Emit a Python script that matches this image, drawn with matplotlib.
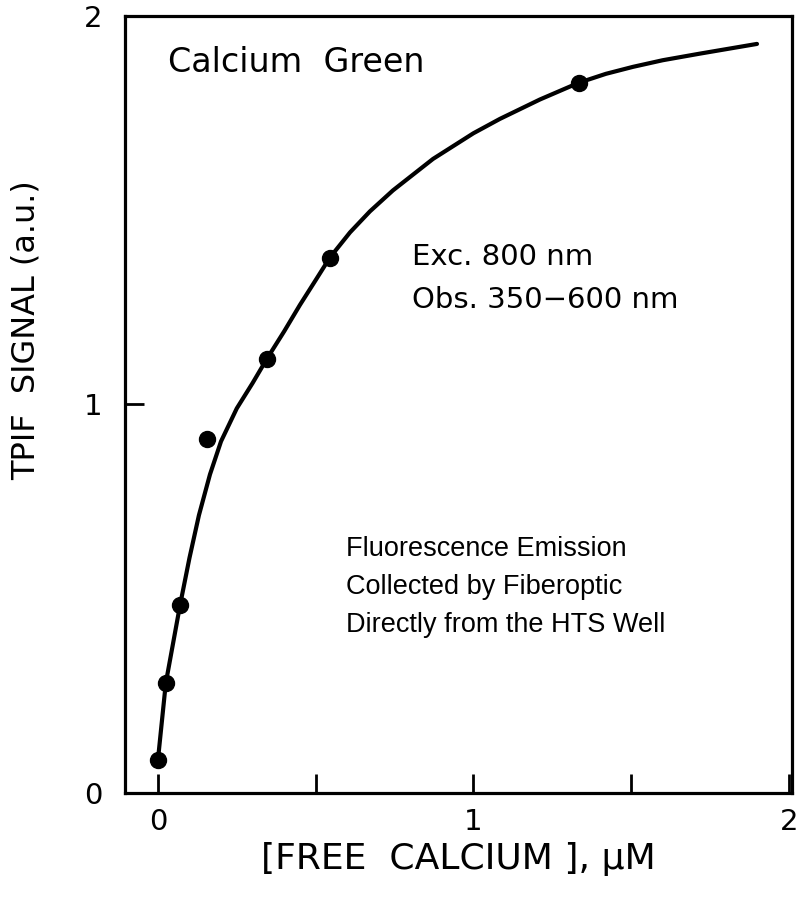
import matplotlib
matplotlib.use("Agg")
import matplotlib.pyplot as plt

# measured points (free calcium in uM, TPIF signal in a.u.)
conc = [0.0, 0.025, 0.07, 0.154, 0.345, 0.545, 1.335]
signal = [0.085, 0.283, 0.483, 0.91, 1.118, 1.378, 1.828]

# fitted curve
curve_x = [0.0, 0.025, 0.07, 0.10, 0.13, 0.165, 0.20, 0.25, 0.30, 0.345,
           0.40, 0.45, 0.50, 0.545, 0.609, 0.672, 0.745, 0.872, 1.00, 1.084,
           1.211, 1.334, 1.42, 1.506, 1.60, 1.718, 1.899]
curve_y = [0.085, 0.283, 0.483, 0.605, 0.715, 0.82, 0.905, 0.99, 1.055, 1.117,
           1.188, 1.256, 1.32, 1.378, 1.443, 1.497, 1.551, 1.632, 1.698, 1.735,
           1.785, 1.828, 1.851, 1.869, 1.886, 1.903, 1.928]

xticks = [0, 0.5, 1, 1.5, 2]
xticklabels = ["0", "", "1", "", "2"]
yticks = [0, 1, 2]
yticklabels = ["0", "1", "2"]

plt.rcParams['font.family'] = ['DejaVu Sans']

fig = plt.figure(figsize=(8, 9.11), dpi=100)
ax = fig.add_axes((0.156, 0.1295, 0.834, 0.853))

ax.plot(curve_x, curve_y, color="black", lw=3, solid_capstyle="round",
        solid_joinstyle="round", zorder=2)
ax.plot(conc, signal, "o", color="black", ms=11.5, zorder=3)

ax.set_xlim(-0.105, 2.01)
ax.set_ylim(0, 2)

ax.set_xticks(xticks)
ax.set_xticklabels(xticklabels)
ax.set_yticks(yticks)
ax.set_yticklabels(yticklabels)
ax.tick_params(direction="in", length=14, width=2, labelsize=21, pad=11, colors="black")
ax.tick_params(axis="y", pad=16)

for s in ax.spines.values():
    s.set_linewidth(2.3)
    s.set_color("black")

ax.set_xlabel("[FREE  CALCIUM ], \u00b5M", fontsize=26, labelpad=4)
ax.set_ylabel("TPIF  SIGNAL (a.u.)", fontsize=23)
ax.yaxis.set_label_coords(-0.125, 0.596)

ax.text(0.064, 0.94, "Calcium  Green", transform=ax.transAxes, fontsize=24, va="center")
ax.text(0.43, 0.69, "Exc. 800 nm", transform=ax.transAxes, fontsize=21, va="center")
ax.text(0.43, 0.635, "Obs. 350\u2212600 nm", transform=ax.transAxes, fontsize=21, va="center")

notes = ["Fluorescence Emission", "Collected by Fiberoptic", "Directly from the HTS Well"]
for i, t in enumerate(notes):
    ax.text(0.332, 0.314 - i * 0.049, t, transform=ax.transAxes, fontsize=19.5,
            family="Liberation Sans", va="center")

fig.savefig("out.png", dpi=100)
